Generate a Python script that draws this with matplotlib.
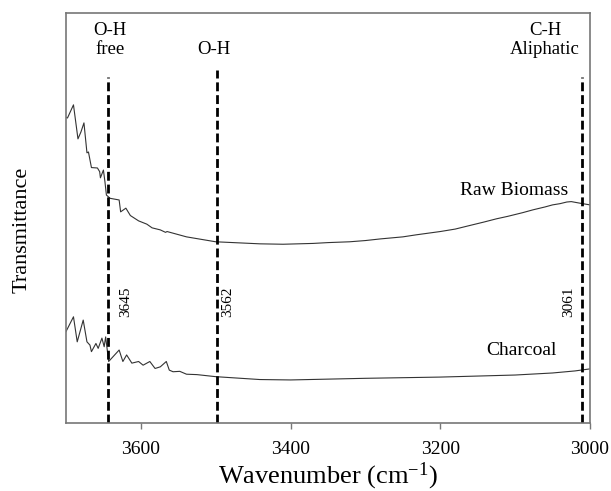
import matplotlib
matplotlib.use("Agg")
import matplotlib.pyplot as plt

plt.rcParams['font.family'] = ['Liberation Serif', 'DejaVu Serif']
plt.rcParams['mathtext.fontset'] = 'custom'
plt.rcParams['mathtext.rm'] = 'Liberation Serif'
plt.rcParams['mathtext.it'] = 'Liberation Serif:italic'

# Raw biomass spectrum (wavenumber, transmittance a.u.)
raw_wn = [3700, 3698, 3690, 3684, 3680, 3676, 3672, 3670, 3666, 3658, 3655, 3654,
          3650, 3648, 3646, 3641, 3629, 3627, 3620, 3614, 3603, 3592, 3585, 3574,
          3567, 3565, 3539, 3500, 3441, 3410, 3370, 3350, 3321, 3300, 3280, 3250,
          3232, 3200, 3180, 3160, 3142, 3125, 3110, 3090, 3076, 3060, 3050, 3040,
          3031, 3025, 3013, 3000]
raw_t = [74.5, 74.4, 77.6, 69.3, 71.0, 73.2, 65.9, 66.1, 62.3, 62.2, 61.3, 59.8,
         61.7, 58.9, 55.6, 54.8, 54.4, 51.5, 52.4, 50.6, 49.3, 48.5, 47.6, 47.1,
         46.5, 46.7, 45.4, 44.2, 43.7, 43.6, 43.8, 44.0, 44.2, 44.5, 44.9, 45.4,
         45.9, 46.7, 47.3, 48.2, 49.0, 49.8, 50.4, 51.3, 52.0, 52.7, 53.2, 53.5,
         53.9, 54.0, 53.6, 53.2]

# Charcoal spectrum
char_wn = [3700, 3690, 3685, 3677, 3672, 3668, 3666, 3660, 3657, 3652, 3649, 3647,
           3643, 3637, 3629, 3624, 3619, 3612, 3603, 3597, 3588, 3581, 3574, 3566,
           3562, 3557, 3548, 3539, 3525, 3500, 3441, 3400, 3300, 3200, 3100, 3050,
           3020, 3000]
char_t = [22.3, 25.9, 19.8, 25.1, 19.8, 19.0, 17.4, 19.4, 18.2, 20.7, 18.6, 21.0,
          15.0, 16.2, 17.8, 15.0, 16.6, 14.6, 15.0, 14.1, 15.0, 13.3, 13.7, 15.0,
          12.9, 12.5, 12.6, 11.9, 11.8, 11.3, 10.6, 10.5, 10.9, 11.2, 11.7, 12.2,
          12.7, 13.2]

# Marker lines: drawn positions and their printed labels
mark_pos = [3644, 3498, 3011]
mark_num = ['3645', '3562', '3061']
mark_top = [0.845, 0.862, 0.845]
mark_name = ['O-H\nfree', 'O-H', 'C-H\nAliphatic']
name_x = [3641, 3502, 3060]
num_x = [3620, 3484, 3028]

xticks = [3600, 3400, 3200, 3000]

fig = plt.figure(figsize=(6.11, 4.91), dpi=100)
ax = fig.add_axes([0.108, 0.1385, 0.8576, 0.835])

ax.plot(raw_wn, raw_t, color='#333333', lw=0.8)
ax.plot(char_wn, char_t, color='#333333', lw=0.8)

for p, top in zip(mark_pos, mark_top):
    ax.axvline(p, ymin=0, ymax=top, color='black', lw=2.0, dashes=(3.2, 1.4))

for nm, x in zip(mark_name, name_x):
    ax.text(x, 89.0, nm, ha='center', va='bottom', fontsize=13.5, linespacing=1.15)

for n, x in zip(mark_num, num_x):
    ax.text(x, 29.5, n, ha='center', va='center', rotation=90, fontsize=11)

ax.text(3029, 56.8, 'Raw Biomass', ha='right', va='center', fontsize=14)
ax.text(3044, 17.8, 'Charcoal', ha='right', va='center', fontsize=14)

ax.set_xlim(3700, 3000)
ax.set_ylim(0, 100)
ax.set_xticks(xticks)
ax.set_xticklabels([str(t) for t in xticks], fontsize=14)
ax.set_yticks([])
ax.tick_params(axis='x', direction='out', length=4, width=1, color='#777777', pad=9)
for s in ax.spines.values():
    s.set_color('#777777')
    s.set_linewidth(1.2)

ax.set_xlabel('Wavenumber (cm$^{-1}$)', fontsize=19, labelpad=2)
ax.set_ylabel('Transmittance', fontsize=16)
ax.yaxis.set_label_coords(-0.065, 0.47)

fig.savefig('out.png', dpi=100)
